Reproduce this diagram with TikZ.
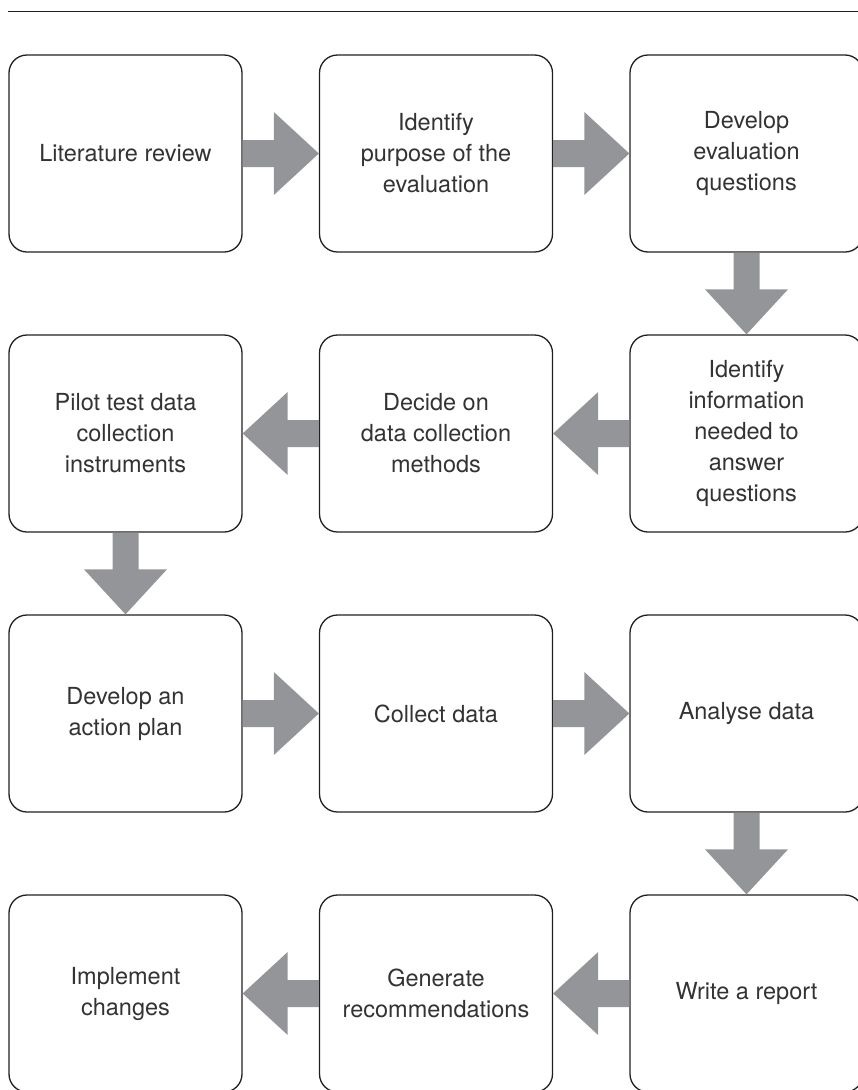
\documentclass[tikz,border=0pt]{standalone}
\usepackage{fontspec}
\setmainfont{TeX Gyre Heros}
\usetikzlibrary{calc}
\definecolor{arrowgray}{HTML}{939598}
\definecolor{textgray}{HTML}{333333}
\definecolor{linegray}{HTML}{231F20}
\tikzset{
  stepbox/.style={draw=linegray, line width=1.3pt, rounded corners=18pt, fill=white,
    minimum width=233pt, minimum height=197pt, inner sep=0pt, align=center,
    text=textgray, font=\fontsize{23.5}{31}\selectfont},
  flowfill/.style={fill=arrowgray, draw=none}
}
\newcommand\arrRight[2]{%
  \fill[flowfill] ($(#1.east)+(0,-13.5)$) -- ($(#2.west)+(-45,-13.5)$) -- ($(#2.west)+(-45,-41.5)$) -- (#2.west)
   -- ($(#2.west)+(-45,41.5)$) -- ($(#2.west)+(-45,13.5)$) -- ($(#1.east)+(0,13.5)$) -- cycle;}
\newcommand\arrLeft[2]{%
  \fill[flowfill] ($(#1.west)+(0,-13.5)$) -- ($(#2.east)+(45,-13.5)$) -- ($(#2.east)+(45,-41.5)$) -- (#2.east)
   -- ($(#2.east)+(45,41.5)$) -- ($(#2.east)+(45,13.5)$) -- ($(#1.west)+(0,13.5)$) -- cycle;}
\newcommand\arrDown[2]{%
  \fill[flowfill] ($(#1.south)+(-13,0)$) -- ($(#2.north)+(-13,-45)$) -- ($(#2.north)+(-41.5,-45)$) -- (#2.north)
   -- ($(#2.north)+(41.5,-45)$) -- ($(#2.north)+(13,-45)$) -- ($(#1.south)+(13,0)$) -- cycle;}
\begin{document}
\begin{tikzpicture}[x=1pt,y=-1pt]
\useasboundingbox (0,0) rectangle (858,1090);
\coordinate (l1) at (8,11);
\coordinate (l2) at (858,11);
\draw[linegray, line width=1pt] (l1) -- (l2);
% row 1
\node[stepbox] (b11) at (125.5,153.5) {Literature review};
\node[stepbox] (b12) at (436,153.5) {Identify\\purpose of the\\evaluation};
\node[stepbox] (b13) at (746.5,153.5) {Develop\\evaluation\\questions};
% row 2
\node[stepbox] (b21) at (125.5,433.5) {Pilot test data\\collection\\instruments};
\node[stepbox] (b22) at (436,433.5) {Decide on\\data collection\\methods};
\node[stepbox] (b23) at (746.5,433.5) {Identify\\information\\needed to\\answer\\questions};
% row 3
\node[stepbox] (b31) at (125.5,713.5) {Develop an\\action plan};
\node[stepbox] (b32) at (436,713.5) {Collect data};
\node[stepbox] (b33) at (746.5,713.5) {Analyse data};
% row 4
\node[stepbox] (b41) at (125.5,993.5) {Implement\\changes};
\node[stepbox] (b42) at (436,993.5) {Generate\\recommendations};
\node[stepbox] (b43) at (746.5,993.5) {Write a report};
% arrows
\arrRight{b11}{b12}
\arrRight{b12}{b13}
\arrDown{b13}{b23}
\arrLeft{b23}{b22}
\arrLeft{b22}{b21}
\arrDown{b21}{b31}
\arrRight{b31}{b32}
\arrRight{b32}{b33}
\arrDown{b33}{b43}
\arrLeft{b43}{b42}
\arrLeft{b42}{b41}
\end{tikzpicture}
\end{document}
